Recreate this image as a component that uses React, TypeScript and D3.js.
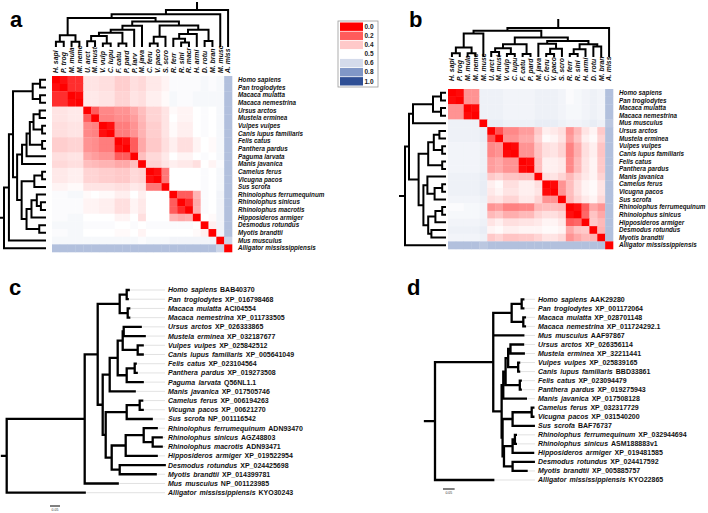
import React from "react";
import * as d3 from "d3";

// ---------------- data ----------------
const speciesA = [
  "Homo sapiens", "Pan troglodytes", "Macaca mulatta", "Macaca nemestrina",
  "Ursus arctos", "Mustela erminea", "Vulpes vulpes", "Canis lupus familiaris",
  "Felis catus", "Panthera pardus", "Paguma larvata", "Manis javanica",
  "Camelus ferus", "Vicugna pacos", "Sus scrofa", "Rhinolophus ferrumequinum",
  "Rhinolophus sinicus", "Rhinolophus macrotis", "Hipposideros armiger",
  "Desmodus rotundus", "Myotis brandtii", "Mus musculus", "Alligator mississippiensis",
];
const colLabelsA = [
  "H. sapi", "P. trog", "M. mula", "M. neme", "U. arct", "M. must", "V. vulp", "C. lupu",
  "F. catu", "P. pard", "P. larv", "M. java", "C. feru", "V. paco", "S. scro", "R. ferr",
  "R. sini", "R. macr", "H. armi", "D. rotu", "M. bran", "M. musc", "A. miss",
];
// upper triangle of the distance matrix (row i: columns i+1..n-1)
const distA: number[][] = [
  [.03, .1, .1, .45, .45, .44, .44, .41, .41, .44, .43, .46, .46, .48, .51, .51, .51, .51, .52, .51, .52, .68],
  [.1, .1, .45, .45, .44, .44, .41, .41, .44, .43, .46, .46, .48, .51, .51, .51, .51, .52, .51, .52, .68],
  [.02, .46, .46, .45, .45, .42, .42, .45, .44, .47, .47, .49, .52, .51, .51, .52, .52, .52, .52, .68],
  [.46, .46, .45, .45, .42, .42, .45, .44, .47, .47, .49, .52, .51, .51, .52, .52, .52, .52, .68],
  [.2, .28, .28, .3, .3, .34, .38, .42, .42, .45, .49, .48, .48, .5, .51, .5, .52, .68],
  [.27, .27, .29, .29, .32, .37, .42, .42, .45, .5, .48, .48, .5, .51, .5, .52, .68],
  [.03, .26, .26, .3, .36, .41, .41, .45, .49, .47, .47, .5, .51, .5, .52, .68],
  [.26, .26, .3, .36, .41, .41, .45, .49, .47, .47, .5, .51, .5, .52, .68],
  [.03, .2, .34, .4, .4, .44, .47, .44, .44, .48, .5, .49, .52, .68],
  [.2, .34, .4, .4, .44, .47, .44, .44, .48, .5, .49, .52, .68],
  [.38, .43, .43, .46, .5, .48, .48, .5, .51, .5, .52, .68],
  [.42, .42, .45, .47, .46, .46, .44, .5, .48, .51, .68],
  [.03, .25, .5, .5, .5, .5, .51, .5, .52, .68],
  [.25, .5, .5, .5, .5, .51, .5, .52, .68],
  [.5, .5, .5, .5, .51, .5, .52, .68],
  [.2, .2, .36, .51, .5, .53, .68],
  [.09, .34, .51, .5, .53, .68],
  [.35, .51, .5, .53, .68],
  [.5, .49, .53, .68],
  [.47, .53, .68],
  [.53, .68],
  [.62],
  [],
];
// dendrogram (internal label = merge height, leaf label = row index)
const primA = "((0,1)0.12,(2,3)0.12)0.3";
const carnA = "(((((4,5)0.13,(6,7)0.07)0.28,(8,9)0.07)0.37,10)0.45,11)0.56";
const ungBatA = "(((12,13)0.07,14)0.26,(((15,(16,17)0.1)0.2,18)0.33,(19,20)0.14)0.45)0.57";
const treeA = "(((" + primA + ",(" + carnA + "," + ungBatA + ")0.68)0.78,21)0.88,22)1";

const speciesB = [
  "Homo sapiens", "Pan troglodytes", "Macaca mulatta", "Macaca nemestrina", "Mus musculus",
  "Ursus arctos", "Mustela erminea", "Vulpes vulpes", "Canis lupus familiaris",
  "Felis catus", "Panthera pardus", "Manis javanica", "Camelus ferus", "Vicugna pacos",
  "Sus scrofa", "Rhinolophus ferrumequinum", "Rhinolophus sinicus", "Hipposideros armiger",
  "Desmodus rotundus", "Myotis brandtii", "Alligator mississippiensis",
];
const colLabelsB = [
  "H. sapi", "P. trog", "M. mula", "M. neme", "M. musc", "U. arct", "M. must", "V. vulp",
  "C. lupu", "F. catu", "P. pard", "M. java", "C. feru", "V. paco", "S. scro", "R. ferr",
  "R. sini", "H. armi", "D. rotu", "M. bran", "A. miss",
];
const distB: number[][] = [
  [.02, .3, .3, .54, .54, .54, .53, .53, .53, .53, .54, .54, .54, .53, .51, .52, .53, .54, .53, .68],
  [.3, .3, .54, .54, .54, .53, .53, .53, .53, .54, .54, .54, .53, .51, .52, .53, .54, .53, .68],
  [.02, .54, .54, .54, .53, .53, .53, .53, .54, .54, .54, .53, .52, .52, .53, .54, .53, .68],
  [.54, .54, .54, .53, .53, .53, .53, .54, .54, .54, .53, .52, .52, .53, .54, .53, .68],
  [.55, .55, .54, .54, .54, .54, .55, .55, .55, .54, .53, .53, .54, .55, .54, .66],
  [.18, .28, .28, .32, .32, .4, .47, .46, .44, .3, .37, .45, .48, .4, .68],
  [.3, .3, .34, .34, .42, .49, .48, .45, .32, .39, .47, .49, .42, .68],
  [.02, .3, .3, .39, .44, .45, .42, .27, .35, .44, .47, .39, .68],
  [.3, .3, .39, .44, .45, .42, .27, .35, .44, .47, .39, .68],
  [.02, .38, .47, .47, .46, .28, .37, .45, .48, .4, .68],
  [.38, .47, .47, .46, .28, .37, .45, .48, .4, .68],
  [.44, .45, .42, .37, .42, .46, .48, .42, .68],
  [.02, .3, .38, .44, .48, .49, .45, .68],
  [.3, .38, .44, .48, .49, .45, .68],
  [.37, .42, .46, .48, .43, .68],
  [.03, .2, .34, .3, .68],
  [.22, .39, .34, .68],
  [.4, .37, .68],
  [.36, .68],
  [.68],
  [],
];
const primB = "(((0,1)0.1,(2,3)0.1)0.3,4)0.8";
const carnB = "(((5,6)0.14,(7,8)0.07)0.28,(9,10)0.07)0.42";
const mubB = "((11,((12,13)0.07,14)0.26)0.44,(((15,16)0.07,17)0.24,(18,19)0.34)0.42)0.54";
const treeB = "((" + primB + ",(" + carnB + "," + mubB + ")0.66)0.9,20)1";

const legendValues = [0, 0.2, 0.4, 0.5, 0.6, 0.8, 1.0];
const legendLabels = ["0.0", "0.2", "0.4", "0.5", "0.6", "0.8", "1.0"];
const legendColors = ["#ff0000", "#ff5c5c", "#ffc9c9", "#ffffff", "#d4dbeb", "#8097c7", "#2f4f95"];

// phylogenetic tree c (branch lengths, substitutions/site)
const tipsC = speciesA;
const accC = [
  "BAB40370", "XP_016798468", "ACI04554", "XP_011733505", "XP_026333865", "XP_032187677",
  "XP_025842512", "XP_005641049", "XP_023104564", "XP_019273508", "Q56NL1.1", "XP_017505746",
  "XP_006194263", "XP_00621270", "NP_001116542", "ADN93470", "AGZ48803", "ADN93471",
  "XP_019522954", "XP_024425698", "XP_014399781", "NP_001123985", "KYO30243",
];
const primC = "((0:0.01,1:0.005):0.035,(2:0.0075,3:0.0075):0.04)";
const carnC = "((((4:0.085,5:0.105):0.005,(6:0.025,7:0.025):0.075):0.025,((8:0.005,9:0.01):0.04,10:0.08):0.045):0.04,11:0.125)";
const ungBatC = "(((12:0.0125,13:0.015):0.065,14:0.125):0.105,(((15:0.065,(16:0.045,17:0.045):0.045):0.09,18:0.155):0.07,(19:0.225,20:0.18):0.04):0.03)";
const treeC = "(((" + primC + ":0.11,(" + carnC + ":0.035," + ungBatC + ":0.015):0.025):0.065,21:0.165):0.39,22:0.39)";

// phylogenetic tree d
const tipsD = speciesB;
const accD = [
  "AAK29280", "XP_001172064", "XP_028701148", "XP_011724292.1", "AAF97867", "XP_026356114",
  "XP_32211441", "XP_025839165", "BBD33861", "XP_023094479", "XP_019275943", "XP_017508128",
  "XP_032317729", "XP_031540200", "BAF76737", "XP_032944694", "ASM188883v1", "XP_019481585",
  "XP_024417592", "XP_005885757", "KYO22865",
];
const primD = "((0:0.007,1:0.007):0.043,(2:0.007,3:0.007):0.05)";
const carnD = "((((5:0.054,6:0.057):0.01,(7:0.004,8:0.004):0.043):0.011,(9:0.004,10:0.004):0.061):0.01,11:0.097)";
const ungBatD = "(((12:0.007,13:0.007):0.082,14:0.091):0.043,(((15:0.004,16:0.004):0.01,17:0.088):0.037,(18:0.091,19:0.06):0.037):0.006)";
const treeD = "((" + primD + ":0.079,4:0.129,(" + carnD + ":0.007," + ungBatD + ":0.004):0.036):0.25,20:0.25)";

// ---------------- helpers ----------------
const FONT = "'Liberation Sans', Arial, Helvetica, sans-serif";

type TNode = { name?: string; length: number; children?: TNode[] };
function parseNewick(s: string): TNode {
  let i = 0;
  const readToken = () => {
    let t = "";
    while (i < s.length && !",():;".includes(s[i])) t += s[i++];
    return t.trim();
  };
  const node = (): TNode => {
    const n: TNode = { length: 0 };
    if (s[i] === "(") {
      i++;
      n.children = [];
      for (;;) {
        n.children.push(node());
        if (s[i] === ",") { i++; continue; }
        if (s[i] === ")") { i++; break; }
        break;
      }
    }
    const label = readToken();
    if (label) n.name = label;
    if (s[i] === ":") { i++; n.length = parseFloat(readToken()); }
    return n;
  };
  return node();
}

const color = d3.scaleLinear<string>().domain(legendValues).range(legendColors).interpolate(d3.interpolateRgb).clamp(true);

function fullDist(tri: number[][], i: number, j: number) {
  if (i === j) return 0;
  return i < j ? tri[i][j - i - 1] : tri[j][i - j - 1];
}

function Dendro({ newick, band, orient, leafPos, rootPos, stubPos }: any) {
  const root: any = d3.hierarchy(parseNewick(newick));
  const hs = d3.scaleLinear().domain([0, 1]).range([leafPos, rootPos]);
  root.eachAfter((d: any) => {
    if (!d.children) { d.p = (band(+d.data.name) as number) + band.bandwidth() / 2; d.hv = 0; }
    else { d.p = (d.children[0].p + d.children[d.children.length - 1].p) / 2; d.hv = parseFloat(d.data.name); }
  });
  const pt = (p: number, h: number) => (orient === "top" ? `${p},${h}` : `${h},${p}`);
  let path = "";
  root.each((d: any) => {
    if (!d.children) return;
    const H = hs(d.hv);
    d.children.forEach((c: any) => { path += `M${pt(c.p, hs(c.hv))}L${pt(c.p, H)}`; });
    path += `M${pt(d.children[0].p, H)}L${pt(d.children[d.children.length - 1].p, H)}`;
  });
  path += `M${pt(root.p, hs(root.hv))}L${pt(root.p, stubPos)}`;
  return <path d={path} fill="none" stroke="#000" strokeWidth={2} strokeLinecap="square" />;
}

function Heatmap({ species, colLabels, dist, tree, x0, x1, y0, y1, labelX, colBottom, top, left }: any) {
  const n = species.length;
  const idx = d3.range(n);
  const xb = d3.scaleBand<number>().domain(idx).range([x0, x1]);
  const yb = d3.scaleBand<number>().domain(idx).range([y0, y1]);
  return (
    <g>
      {idx.map((i) => idx.map((j) => (
        <rect key={`${i}-${j}`} x={xb(j)} y={yb(i)} width={xb.bandwidth() + 0.3} height={yb.bandwidth() + 0.3}
          fill={color(fullDist(dist, i, j))} />
      )))}
      {species.map((s: string, i: number) => (
        <text key={s} x={labelX} y={(yb(i) as number) + yb.bandwidth() / 2} dy="0.35em" fontSize={6.3}
          fontWeight="bold" fontStyle="italic" fontFamily={FONT} fill="#111">{s}</text>
      ))}
      {colLabels.map((s: string, j: number) => {
        const cx = (xb(j) as number) + xb.bandwidth() / 2;
        return (
          <text key={s + j} transform={`translate(${cx + 2.4},${colBottom}) rotate(-90)`} fontSize={6.9}
            fontWeight="bold" fontStyle="italic" fontFamily={FONT} fill="#111">{s}</text>
        );
      })}
      <Dendro newick={tree} band={xb} orient="top" leafPos={top.leaf} rootPos={top.root} stubPos={top.stub} />
      <Dendro newick={tree} band={yb} orient="left" leafPos={left.leaf} rootPos={left.root} stubPos={left.stub} />
    </g>
  );
}

function Phylo({ newick, tips, acc, x0, pxPerUnit, y0, y1, labelX, stub, sbX, sbY }: any) {
  const root: any = d3.hierarchy(parseNewick(newick));
  const xs = d3.scaleLinear().domain([0, 1]).range([x0, x0 + pxPerUnit]);
  const ys = d3.scalePoint<number>().domain(d3.range(tips.length)).range([y0, y1]);
  root.eachBefore((d: any) => { d.dist = (d.parent ? d.parent.dist : 0) + (d.parent ? d.data.length : 0); });
  root.eachAfter((d: any) => {
    d.px = xs(d.dist);
    if (!d.children) d.py = ys(+d.data.name);
    else d.py = (d.children[0].py + d.children[d.children.length - 1].py) / 2;
  });
  let path = "";
  root.each((d: any) => {
    if (d.parent) path += `M${d.parent.px},${d.py}H${d.px}`;
    if (d.children) path += `M${d.px},${d.children[0].py}V${d.children[d.children.length - 1].py}`;
  });
  path += `M${stub},${root.py}H${root.px}`;
  const leaves = root.leaves();
  const sbLen = xs(0.05) - xs(0);
  return (
    <g>
      {leaves.map((l: any) => (
        <line key={"ld" + l.data.name} x1={l.px + 1.5} x2={labelX - 3} y1={l.py} y2={l.py} stroke="#cfcfcf" strokeWidth={0.6} />
      ))}
      <path d={path} fill="none" stroke="#000" strokeWidth={2.3} strokeLinecap="square" />
      {leaves.map((l: any) => {
        const i = +l.data.name;
        return (
          <text key={"lt" + i} x={labelX} y={l.py} dy="0.35em" fontSize={7} fontWeight="bold" fontFamily={FONT}
            fill="#111" wordSpacing={1.2}>
            <tspan fontStyle="italic">{tips[i]}</tspan>
            <tspan dx={3}>{acc[i]}</tspan>
          </text>
        );
      })}
      <line x1={sbX} x2={sbX + sbLen} y1={sbY} y2={sbY} stroke="#000" strokeWidth={1} />
      <text x={sbX + sbLen / 2} y={sbY + 4.5} textAnchor="middle" fontSize={3.5} fontFamily={FONT} fill="#333">0.05</text>
    </g>
  );
}

function Legend({ x, y }: any) {
  const sy = d3.scaleBand<number>().domain(d3.range(legendValues.length)).range([y + 1.5, y + 64.5]).paddingInner(0.08);
  return (
    <g>
      <rect x={x} y={y} width={40} height={66} fill="#fff" stroke="#999" strokeWidth={0.8} />
      {legendValues.map((v, i) => (
        <g key={i}>
          <rect x={x + 2} y={sy(i)} width={23} height={sy.bandwidth()} fill={color(v)} />
          <text x={x + 26.5} y={(sy(i) as number) + sy.bandwidth() / 2} dy="0.35em" fontSize={6.5} fontWeight="bold"
            fontFamily={FONT} fill="#222">{legendLabels[i]}</text>
        </g>
      ))}
    </g>
  );
}

const Letter = ({ x, y, t }: any) => (
  <text x={x} y={y} fontSize={22} fontWeight="bold" fontFamily={FONT} fill="#000">{t}</text>
);

export default function App() {
  return (
    <svg width={708} height={513} style={{ position: "absolute", left: 0, top: 0, background: "#fff" }}>
      <rect x={0} y={0} width={708} height={513} fill="#fff" />
      <Letter x={10} y={27} t="a" />
      <Letter x={409} y={27} t="b" />
      <Letter x={9} y={295} t="c" />
      <Letter x={407} y={295} t="d" />
      <Heatmap species={speciesA} colLabels={colLabelsA} dist={distA} tree={treeA}
        x0={52} x1={232} y0={76} y1={252} labelX={238} colBottom={73}
        top={{ leaf: 46, root: 10, stub: 3 }} left={{ leaf: 45, root: 4, stub: 0 }} />
      <Heatmap species={speciesB} colLabels={colLabelsB} dist={distB} tree={treeB}
        x0={448} x1={613} y0={89} y1={249} labelX={619} colBottom={81}
        top={{ leaf: 56, root: 28, stub: 20 }} left={{ leaf: 445, root: 405, stub: 400 }} />
      <Legend x={338} y={21} />
      <Phylo newick={treeC} tips={tipsC} acc={accC} x0={6.7} pxPerUnit={200} y0={290} y1={492.7}
        labelX={168} stub={2} sbX={50} sbY={506} />
      <Phylo newick={treeD} tips={tipsD} acc={accD} x0={435} pxPerUnit={233} y0={299.3} y1={480}
        labelX={538} stub={425} sbX={443} sbY={489} />
    </svg>
  );
}
